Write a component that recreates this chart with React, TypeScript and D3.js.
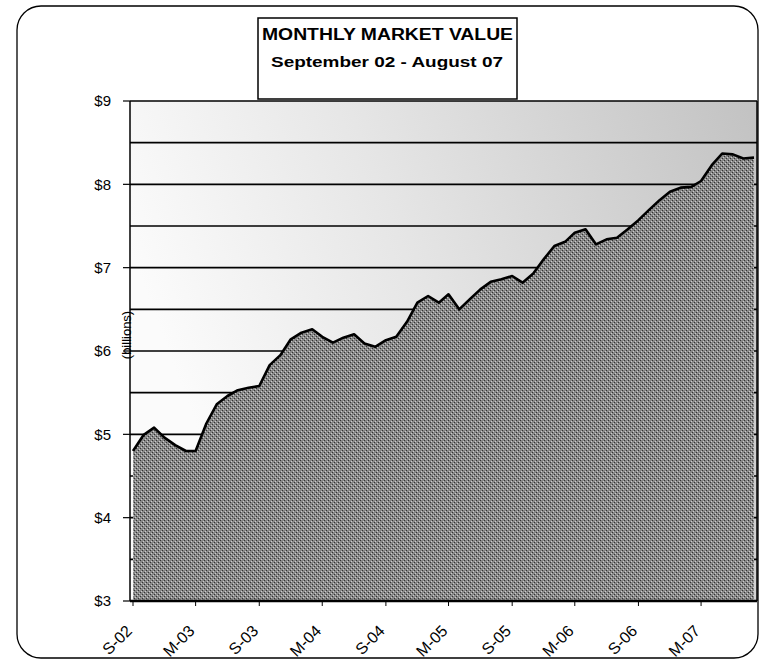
import * as d3 from "d3";

// monthly market value, $ billions, Sep 2002 .. Aug 2007
const values = [
  4.8, 4.99, 5.08, 4.96, 4.87, 4.8, 4.8, 5.13, 5.36, 5.46, 5.53, 5.56,
  5.58, 5.83, 5.95, 6.14, 6.22, 6.26, 6.17, 6.1, 6.16, 6.2, 6.09, 6.05,
  6.13, 6.17, 6.35, 6.58, 6.66, 6.58, 6.68, 6.5, 6.62, 6.74, 6.83, 6.86,
  6.9, 6.82, 6.93, 7.1, 7.26, 7.31, 7.42, 7.46, 7.28, 7.34, 7.36, 7.46,
  7.57, 7.69, 7.81, 7.91, 7.96, 7.97, 8.04, 8.23, 8.37, 8.36, 8.31, 8.32,
];
const startMonth = new Date(2002, 8, 1);
const tickLabels = ["S-02", "M-03", "S-03", "M-04", "S-04", "M-05", "S-05", "M-06", "S-06", "M-07"];
const yTicks = [3, 4, 5, 6, 7, 8, 9];
const gridLines = [3.5, 4, 4.5, 5, 5.5, 6, 6.5, 7, 7.5, 8, 8.5, 9];

const font = "'Liberation Sans', Arial, sans-serif";

export default function App() {
  const left = 130, right = 757, top = 101, bottom = 601;
  const dates = values.map((_, i) => d3.timeMonth.offset(startMonth, i));
  const x = d3.scaleTime()
    .domain([dates[0], dates[dates.length - 1]])
    .range([133, 754]);
  const y = d3.scaleLinear().domain([3, 9]).range([bottom, top]);
  const tickDates = tickLabels.map((_, i) => d3.timeMonth.offset(startMonth, i * 6));

  const area = d3.area<number>()
    .x((_, i) => x(dates[i]))
    .y0(bottom)
    .y1(d => y(d));
  const line = d3.line<number>()
    .x((_, i) => x(dates[i]))
    .y(d => y(d));

  return (
    <svg width={760} height={660} style={{ position: "absolute", left: 0, top: 0, fontFamily: font }}>
      <defs>
        <linearGradient id="bg" x1="0" y1="0.3" x2="1" y2="0">
          <stop offset="0" stopColor="#fbfbfb" />
          <stop offset="0.4" stopColor="#e6e6e6" />
          <stop offset="1" stopColor="#c2c2c2" />
        </linearGradient>
        <pattern id="dots" width="4" height="4" patternUnits="userSpaceOnUse">
          <rect width="4" height="4" fill="#888888" />
          <rect x="0" y="0" width="1" height="1" fill="#333333" />
          <rect x="2" y="2" width="1" height="1" fill="#333333" />
          <rect x="1" y="3" width="1" height="1" fill="#cccccc" />
          <rect x="3" y="1" width="1" height="1" fill="#cccccc" />
        </pattern>
      </defs>

      <rect x={17} y={6} width={741} height={652} rx={24} fill="white" stroke="black" strokeWidth={1.3} />

      <rect x={left} y={top} width={right - left} height={bottom - top} fill="url(#bg)" />

      {gridLines.map(v => (
        <line key={v} x1={left} x2={right} y1={y(v)} y2={y(v)} stroke="black" strokeWidth={1.6} />
      ))}

      <path d={area(values) ?? ""} fill="url(#dots)" />
      <path d={line(values) ?? ""} fill="none" stroke="black" strokeWidth={2.6} strokeLinejoin="round" />

      <line x1={left} x2={left} y1={top} y2={bottom} stroke="black" strokeWidth={1.5} />
      <line x1={right} x2={right} y1={top} y2={bottom} stroke="black" strokeWidth={1.5} />
      <line x1={left} x2={right} y1={bottom} y2={bottom} stroke="black" strokeWidth={2.5} />

      {yTicks.map(v => (
        <g key={v}>
          <line x1={left - 7} x2={left} y1={y(v)} y2={y(v)} stroke="black" strokeWidth={1.2} />
          <text x={111} y={y(v)} dy="0.35em" textAnchor="end" fontSize={15}>${v}</text>
        </g>
      ))}

      {tickDates.map((d, i) => (
        <g key={i}>
          <line x1={x(d)} x2={x(d)} y1={bottom} y2={bottom + 5} stroke="black" strokeWidth={1} />
          <text
            transform={`translate(${x(d) - 4},${bottom + 27}) rotate(-45)`}
            textAnchor="end"
            dy="0.35em"
            fontSize={16}
          >
            {tickLabels[i]}
          </text>
        </g>
      ))}

      <text transform={`translate(${left + 1},335) rotate(-90)`} textAnchor="middle" fontSize={13}>
        (billions)
      </text>

      <rect x={258} y={18} width={259} height={81} fill="white" stroke="black" strokeWidth={1.5} />
      <text x={387.5} y={40} textAnchor="middle" fontSize={16} fontWeight="bold"
        textLength={251} lengthAdjust="spacingAndGlyphs">
        MONTHLY MARKET VALUE
      </text>
      <text x={387} y={67} textAnchor="middle" fontSize={15} fontWeight="bold"
        textLength={232} lengthAdjust="spacingAndGlyphs">
        September  02 - August 07
      </text>
    </svg>
  );
}
